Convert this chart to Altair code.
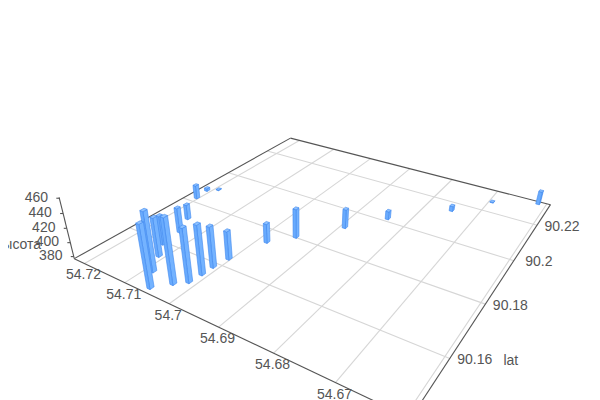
import altair as alt
import pandas as pd

# values
lon = [54.6615,54.6694,54.6749,54.6839,54.6891,54.6948,54.6982,54.7004,54.7010,54.7011,54.7014,54.7032,54.7134,54.7111,54.7055,54.7085,54.7138,54.7160,54.7204,54.7209,54.7191]
lat = [90.2323,90.2262,90.2153,90.2016,90.1913,90.1803,90.1743,90.1632,90.1585,90.1548,90.1509,90.1484,90.1593,90.1548,90.1445,90.1494,90.1659,90.1721,90.1823,90.1874,90.1896]
alt_m = [396.8,378.0,384.7,389.1,404.9,418.9,404.7,417.0,433.8,445.4,450.5,465.7,418.4,432.1,462.2,459.4,413.1,398.9,397.6,381.1,378.0]
lon_ticks = [54.72,54.71,54.70,54.69,54.68,54.67,54.66]
lon_labels = ["54.72","54.71","54.7","54.69","54.68","54.67"]
lat_ticks = [90.16,90.18,90.20,90.22]
lat_labels = ["90.16","90.18","90.2","90.22"]
z_ticks = [380,400,420,440,460]

LON_MIN, LON_MAX = 54.6593, 54.7227
LAT_MIN, LAT_MAX = 90.1426, 90.2335
Z_MIN, Z_MAX = 377.0, 461.0
W, H = 584, 392
DLON, DLAT = 0.00034, 0.00062


def project(lo, la, z=Z_MIN):
    """Perspective camera of the 3D scene, returns plot pixels."""
    u = (lo - 54.67) / 0.04
    v = (la - 90.16) / 0.06
    s = -0.00089 * (z - Z_MIN)
    den = 0.2211 * u + 0.3549 * v + 1 + s
    x = (-161.4 * u + 272.7 * v + 380 + 300 * s) / den
    y = (-27.2 * u - 45.5 * v + 330 + 1170 * s) / den
    return x - 8, y - 8


def depth(lo, la):
    return 0.2211 * (lo - 54.67) / 0.04 + 0.3549 * (la - 90.16) / 0.06


def seg(p, q, kind):
    return {"x0": p[0], "y0": p[1], "x1": q[0], "y1": q[1], "kind": kind}


lines = []
for t in lon_ticks:
    lines.append(seg(project(t, LAT_MIN), project(t, LAT_MAX), "grid"))
for t in lat_ticks:
    lines.append(seg(project(LON_MIN, t), project(LON_MAX, t), "grid"))
c_left = project(LON_MAX, LAT_MIN)
c_back = project(LON_MAX, LAT_MAX)
c_right = project(LON_MIN, LAT_MAX)
c_front = project(LON_MIN, LAT_MIN)
for p, q in [(c_left, c_back), (c_back, c_right), (c_right, c_front), (c_front, c_left)]:
    lines.append(seg(p, q, "axis"))
lines.append(seg(project(LON_MAX, LAT_MIN, Z_MIN), project(LON_MAX, LAT_MIN, Z_MAX), "axis"))
for t in z_ticks:
    p = project(LON_MAX, LAT_MIN, t)
    lines.append(seg(p, (p[0] - 3, p[1]), "axis"))
lines = pd.DataFrame(lines)

texts = []
for t, l in zip(lon_ticks, lon_labels):
    x, y = project(t, LAT_MIN)
    texts.append({"tx": x - 1, "ty": y + 12, "label": l})
for t, l in zip(lat_ticks, lat_labels):
    x, y = project(LON_MIN, t)
    texts.append({"tx": x + 25, "ty": y + 1.5, "label": l})
for t in z_ticks:
    x, y = project(LON_MAX, LAT_MIN, t)
    texts.append({"tx": x - 23, "ty": y - 0.5, "label": str(t)})
x, y = project(LON_MIN, 90.16)
texts.append({"tx": x + 61, "ty": y + 3, "label": "lat"})
x, y = project(LON_MAX, LAT_MIN, 402)
texts.append({"tx": x - 52, "ty": y + 3.5, "label": "высота"})
texts = pd.DataFrame(texts)


def poly(points, face):
    ring = [list(project(*p)) for p in points]
    ring.append(ring[0])
    return {"type": "Feature", "properties": {"face": face},
            "geometry": {"type": "Polygon", "coordinates": [ring]}}


features = []
for lo, la, z in sorted(zip(lon, lat, alt_m), key=lambda r: -depth(r[0], r[1])):
    a, b = lo - DLON, lo + DLON
    c, d = la - DLAT, la + DLAT
    features.append(poly([(a, c, Z_MIN), (a, d, Z_MIN), (a, d, z), (a, c, z)], "lon"))
    features.append(poly([(a, c, Z_MIN), (b, c, Z_MIN), (b, c, z), (a, c, z)], "lat"))
    features.append(poly([(a, c, z), (b, c, z), (b, d, z), (a, d, z)], "top"))

xs = alt.Scale(domain=[0, W], range=[0, W])
ys = alt.Scale(domain=[0, H], range=[0, H])

rules = alt.Chart(lines).mark_rule(clip=True, strokeWidth=1.1).encode(
    x=alt.X("x0:Q", scale=xs, axis=None),
    y=alt.Y("y0:Q", scale=ys, axis=None),
    x2="x1:Q",
    y2="y1:Q",
    color=alt.Color("kind:N", scale=alt.Scale(domain=["grid", "axis"], range=["#d6d6d6", "#555555"]), legend=None),
    order=alt.Order("kind:N", sort="descending"),
)

bars = alt.Chart(alt.InlineData(
    values={"type": "FeatureCollection", "features": features},
    format=alt.DataFormat(property="features", type="json"),
)).mark_geoshape(stroke="#4088ee", strokeWidth=0.6).encode(
    color=alt.Color("properties.face:N", legend=None,
                    scale=alt.Scale(domain=["lon", "lat", "top"], range=["#74b3ff", "#69abfd", "#8ec2ff"])),
).project(type="identity", reflectY=False, scale=1, translate=[0, 0])

labels = alt.Chart(texts).mark_text(font="Liberation Sans", fontSize=14, color="#555555", align="center", baseline="middle").encode(
    x=alt.X("tx:Q", scale=xs, axis=None),
    y=alt.Y("ty:Q", scale=ys, axis=None),
    text="label:N",
)

chart = alt.layer(rules, bars, labels).resolve_scale(color="independent").properties(
    width=W, height=H, padding=0, autosize="none"
).configure_view(stroke=None)

chart.save("out.html", embed_options={"renderer": "svg", "actions": False})
